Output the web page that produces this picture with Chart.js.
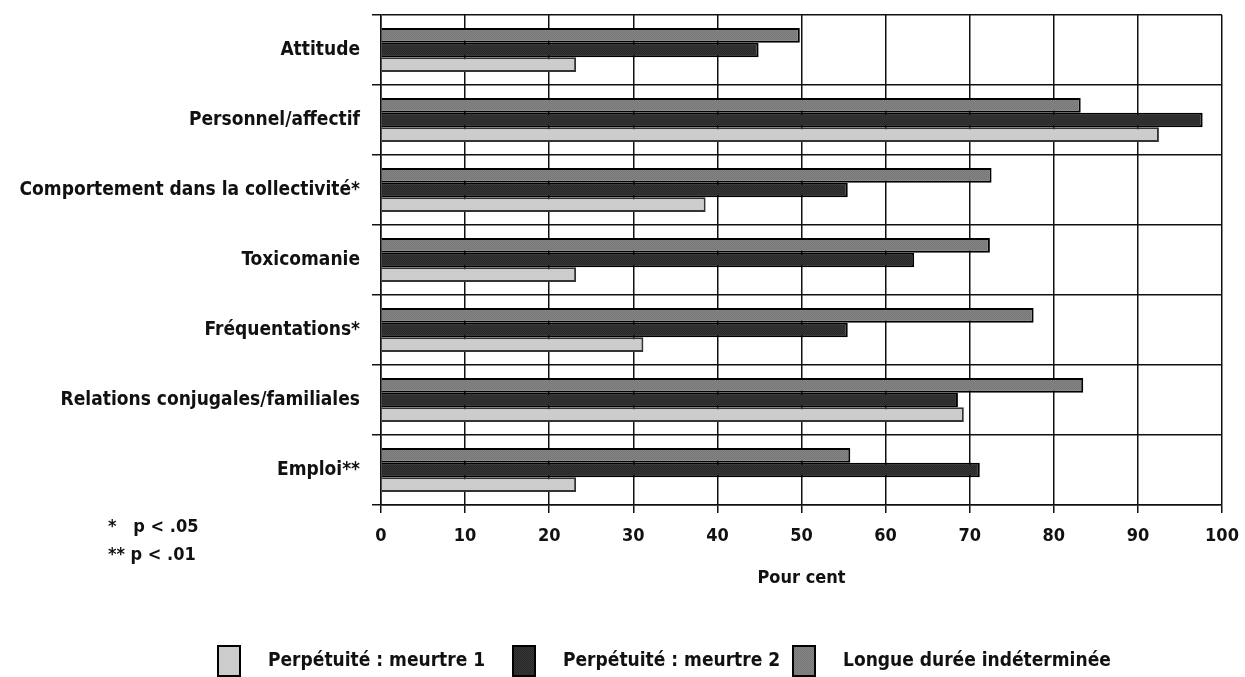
<!DOCTYPE html>
<html>
<head>
<meta charset="utf-8">
<script src="https://cdn.jsdelivr.net/npm/chart.js@4"></script>
<style>
  html, body { margin: 0; padding: 0; background: #fff; }
  #wrap { width: 1245px; height: 677px; }
</style>
</head>
<body>
<div id="wrap"><canvas id="chart"></canvas></div>
<script>
const categories = [
  'Attitude',
  'Personnel/affectif',
  'Comportement dans la collectivité*',
  'Toxicomanie',
  'Fréquentations*',
  'Relations conjugales/familiales',
  'Emploi**'
];
const meurtre1 = [23.2, 92.5, 38.6, 23.2, 31.2, 69.3, 23.2];
const meurtre2 = [44.9, 97.7, 55.5, 63.4, 55.5, 68.6, 71.2];
const longueDuree = [49.8, 83.2, 72.6, 72.4, 77.6, 83.5, 55.8];
const xTicks = [0, 10, 20, 30, 40, 50, 60, 70, 80, 90, 100];
const footnotes = ['*   p < .05', '** p < .01'];

const FONT = "'Liberation Sans Narrow', 'DejaVu Sans Condensed', sans-serif";

// small dotted textures like the scanned print
function makePattern(base, dot) {
  const c = document.createElement('canvas');
  c.width = 2; c.height = 2;
  const g = c.getContext('2d');
  g.fillStyle = base; g.fillRect(0, 0, 2, 2);
  g.fillStyle = dot; g.fillRect(0, 0, 1, 1); g.fillRect(1, 1, 1, 1);
  return g.createPattern(c, 'repeat');
}
const midFill = makePattern('#858585', '#767676');
const darkFill = makePattern('#343434', '#2a2a2a');

// footnotes + legend row drawn on the canvas (legend in reverse dataset order)
const extrasPlugin = {
  id: 'extras',
  afterDraw(chart) {
    const ctx = chart.ctx;
    ctx.save();
    ctx.fillStyle = '#111';
    ctx.font = 'bold 18px ' + FONT;
    ctx.textBaseline = 'middle';
    ctx.fillText(footnotes[0], 108, 527);
    ctx.fillText(footnotes[1], 108, 555);

    const items = chart.data.datasets.slice().reverse();
    const boxX = [218, 513, 793];
    items.forEach((ds, i) => {
      ctx.fillStyle = ds.backgroundColor;
      ctx.fillRect(boxX[i], 646, 22, 30);
      ctx.strokeStyle = '#000';
      ctx.lineWidth = 2;
      ctx.strokeRect(boxX[i], 646, 22, 30);
      ctx.fillStyle = '#111';
      ctx.font = 'bold 19px ' + FONT;
      ctx.fillText(ds.label, boxX[i] + 50, 661);
    });
    ctx.restore();
  }
};

new Chart(document.getElementById('chart'), {
  type: 'bar',
  data: {
    labels: categories,
    datasets: [
      {
        label: 'Longue durée indéterminée',
        data: longueDuree,
        backgroundColor: midFill,
        borderColor: '#000',
        borderWidth: 2
      },
      {
        label: 'Perpétuité : meurtre 2',
        data: meurtre2,
        backgroundColor: darkFill,
        borderColor: '#000',
        borderWidth: 2
      },
      {
        label: 'Perpétuité : meurtre 1',
        data: meurtre1,
        backgroundColor: '#cccccc',
        borderColor: '#333',
        borderWidth: 2
      }
    ]
  },
  options: {
    indexAxis: 'y',
    responsive: true,
    maintainAspectRatio: false,
    animation: false,
    layout: { padding: { top: 15, right: 23, left: 0, bottom: 72 } },
    datasets: {
      bar: { categoryPercentage: 0.63, barPercentage: 1.0, borderSkipped: 'left' }
    },
    plugins: {
      legend: { display: false },
      tooltip: { enabled: false }
    },
    scales: {
      x: {
        min: 0,
        max: 100,
        afterBuildTicks(scale) { scale.ticks = xTicks.map(v => ({ value: v })); },
        afterFit(scale) {
          scale.height = 100;
          scale.paddingLeft = 0;
          scale.paddingRight = 0;
        },
        ticks: {
          color: '#111',
          font: { family: FONT, size: 18, weight: 'bold' },
          padding: 13,
          maxRotation: 0
        },
        grid: { color: '#111', lineWidth: 1.5, tickLength: 8 },
        border: { color: '#111', width: 1.5 },
        title: {
          display: true,
          text: 'Pour cent',
          color: '#111',
          font: { family: FONT, size: 18, weight: 'bold' },
          padding: { top: 10, bottom: 16 }
        }
      },
      y: {
        afterFit(scale) {
          scale.width = 381;
          scale.paddingTop = 0;
          scale.paddingBottom = 0;
        },
        ticks: {
          color: '#111',
          font: { family: FONT, size: 19, weight: 'bold' },
          padding: 12
        },
        grid: { color: '#111', lineWidth: 1.5, tickLength: 9, offset: true },
        border: { color: '#111', width: 1.5 }
      }
    }
  },
  plugins: [extrasPlugin]
});
</script>
</body>
</html>
